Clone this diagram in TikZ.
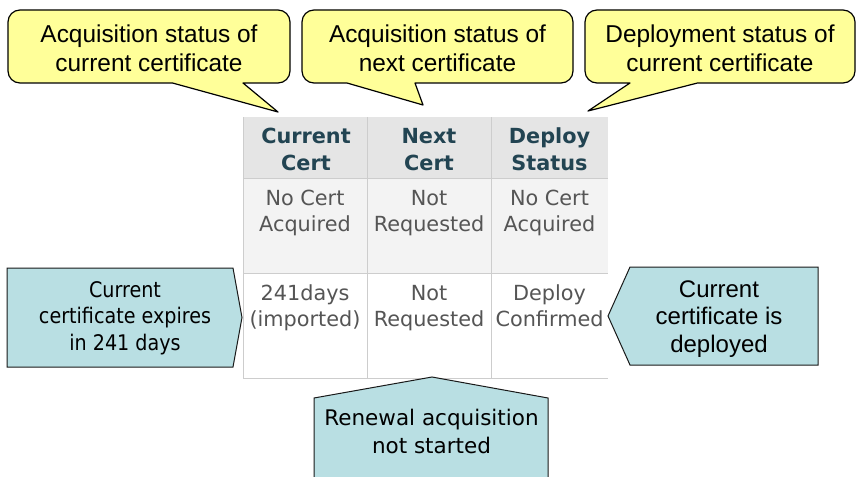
\documentclass[tikz,border=0pt]{standalone}
\usepackage{fontspec}
\setmainfont{Liberation Sans}
\newfontfamily\webfont{DejaVu Sans}
\newfontfamily\narrowfont[FakeStretch=0.89]{DejaVu Sans}

\definecolor{calloutyellow}{RGB}{255,255,153}
\definecolor{noteblue}{RGB}{185,223,227}
\definecolor{headbg}{RGB}{229,229,229}
\definecolor{rowbg}{RGB}{243,243,243}
\definecolor{gridline}{RGB}{205,205,205}
\definecolor{headtext}{RGB}{34,68,82}
\definecolor{celltext}{RGB}{85,85,85}

\tikzset{
  callout/.style={fill=calloutyellow, draw=black, line width=1.2pt, line join=round},
  notebox/.style={fill=noteblue, draw=black!90, line width=1pt, line join=miter},
  % anchor=base of a multi-line node sits on its last line
  callouttext/.style={anchor=base, align=center, inner sep=0pt,
    font=\fontsize{24.4}{29}\selectfont},
  headcell/.style={anchor=base, align=center, inner sep=0pt, text=headtext,
    font=\webfont\bfseries\fontsize{20.8}{27}\selectfont},
  bodycell/.style={anchor=base, align=center, inner sep=0pt, text=celltext,
    font=\webfont\fontsize{20.8}{26}\selectfont},
  gridrule/.style={draw=gridline, line width=0.9pt}
}

\begin{document}
\begin{tikzpicture}[x=1pt,y=1pt]
\useasboundingbox (0,0) rectangle (858,-476);
\clip (0,0) rectangle (858,-476);

% ---- status table ----
\fill[headbg] (243,-117) rectangle (608,-178);
\fill[rowbg]  (243,-178) rectangle (608,-273);
\fill[white]  (243,-273) rectangle (608,-378);
\draw[gridrule] (243,-178) -- (608,-178);
\draw[gridrule] (243,-273) -- (608,-273);
\draw[gridrule] (243,-378) -- (608,-378);
\draw[gridrule] (243,-117) -- (243,-378);
\draw[gridrule] (367,-117) -- (367,-378);
\draw[gridrule] (491,-117) -- (491,-378);

\node[headcell] (h1) at (306,-170) {Current\\Cert};
\node[headcell] (h2) at (429,-170) {Next\\Cert};
\node[headcell] (h3) at (549.5,-170) {Deploy\\Status};

\node[bodycell] (a1) at (305,-231) {No Cert\\Acquired};
\node[bodycell] (a2) at (429,-231) {Not\\Requested};
\node[bodycell] (a3) at (549.5,-231) {No Cert\\Acquired};

\node[bodycell] (b1) at (305,-326) {241days\\(imported)};
\node[bodycell] (b2) at (429,-326) {Not\\Requested};
\node[bodycell] (b3) at (549.5,-326) {Deploy\\Confirmed};

% ---- yellow callouts (rounded rectangles with a wedge) ----
\draw[callout] (20,-10) -- (278,-10) arc[start angle=90,end angle=0,radius=12]
  -- (290,-71) arc[start angle=0,end angle=-90,radius=12]
  -- (243,-83) -- (278,-112) -- (172.5,-83)
  -- (20,-83) arc[start angle=-90,end angle=-180,radius=12]
  -- (8,-22) arc[start angle=180,end angle=90,radius=12] -- cycle;
\node[callouttext] (c1) at (149,-72) {Acquisition status of\\current certificate};

\draw[callout] (314,-10) -- (561,-10) arc[start angle=90,end angle=0,radius=12]
  -- (573,-71) arc[start angle=0,end angle=-90,radius=12]
  -- (415,-83) -- (423,-105) -- (347,-83)
  -- (314,-83) arc[start angle=-90,end angle=-180,radius=12]
  -- (302,-22) arc[start angle=180,end angle=90,radius=12] -- cycle;
\node[callouttext] (c2) at (437.5,-72) {Acquisition status of\\next certificate};

\draw[callout] (597,-10) -- (843,-10) arc[start angle=90,end angle=0,radius=12]
  -- (855,-71) arc[start angle=0,end angle=-90,radius=12]
  -- (697.5,-83) -- (588,-111) -- (630,-83)
  -- (597,-83) arc[start angle=-90,end angle=-180,radius=12]
  -- (585,-22) arc[start angle=180,end angle=90,radius=12] -- cycle;
\node[callouttext] (c3) at (720,-72) {Deployment status of\\current certificate};

% ---- blue pointer boxes ----
\draw[notebox] (7,-268) -- (233,-268) -- (242,-317.5) -- (233,-367) -- (7,-367) -- cycle;
\node[anchor=base, align=center, inner sep=0pt,
  font=\narrowfont\fontsize{21.5}{26.5}\selectfont] (n1) at (125,-350)
  {Current\\certificate expires\\in 241 days};

\draw[notebox] (608,-316) -- (630,-267) -- (818,-267) -- (818,-365) -- (630,-365) -- cycle;
\node[anchor=base, align=center, inner sep=0pt,
  font=\fontsize{24}{27.5}\selectfont] (n2) at (719,-352)
  {Current\\certificate is\\deployed};

\draw[notebox] (314,-398) -- (432,-377) -- (548,-398) -- (548,-490) -- (314,-490) -- cycle;
\node[anchor=base, align=center, inner sep=0pt,
  font=\webfont\fontsize{21.5}{28}\selectfont] (n3) at (431.5,-453)
  {Renewal acquisition\\not started};
\end{tikzpicture}
\end{document}
